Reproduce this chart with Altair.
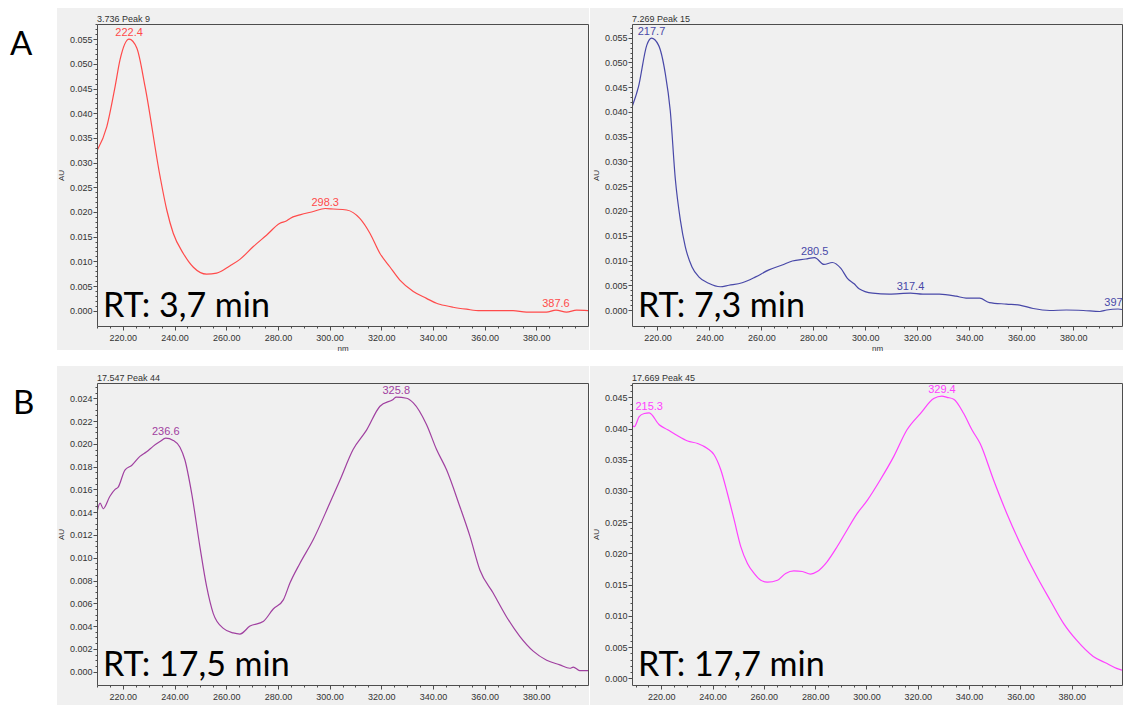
import altair as alt
import pandas as pd

# ---------------- spectra (wavelength in nm, absorbance in AU) ----------------
# Peak 9, RT 3.736 min
a1_nm = [210, 213.8, 217, 218.9, 222.4, 225.4, 228.6, 234.4, 237, 239.5,
         243.4, 247.3, 252.4, 256.3, 261.5, 265.3, 270.5, 275.6, 280.8, 283.4,
         284.7, 288.5, 293.7, 298.3, 301.4, 306.6, 311.7, 315.6, 319.5, 323.3,
         327.2, 332.4, 337.5, 341.4, 342.6, 347.8, 353, 358.2, 364.6, 371,
         376.2, 383.9, 387.6, 391.7, 395.6, 400]
a1_au = [0.0324, 0.0373, 0.0454, 0.0508, 0.0550, 0.0532, 0.0454, 0.0272, 0.0204, 0.0157,
         0.0116, 0.0088, 0.0074, 0.0076, 0.0091, 0.0104, 0.0130, 0.0153, 0.0177, 0.0182,
         0.0187, 0.0194, 0.0201, 0.0207, 0.0206, 0.0204, 0.0187, 0.0157, 0.0116, 0.0089,
         0.0062, 0.0039, 0.0025, 0.0015, 0.0013, 0.0007, 0.0003, 0.0000, 0.0000, 0.0000,
         -0.0003, -0.0003, 0.0001, -0.0003, 0.0001, 0.0000]
a1_peaks = [222.4, 298.3, 387.6]

# Peak 15, RT 7.269 min
a2_nm = [210, 212.7, 215.9, 217.7, 220.4, 223, 224.9, 226.9, 228.8, 230.7,
         233.3, 235.9, 239.7, 244.2, 247.5, 252.6, 257.8, 262.9, 268, 271.9,
         277.1, 280.5, 284.1, 287.3, 290.6, 293.1, 295.7, 297.6, 302.8, 309.2,
         317.4, 322.1, 328.5, 334.9, 338.8, 344, 347.8, 354.3, 359.4, 364.6,
         371, 377.4, 383.9, 390.3, 392.9, 397.3, 398.8]
a2_au = [0.0407, 0.0451, 0.0535, 0.0549, 0.0535, 0.0478, 0.0404, 0.0263, 0.0182, 0.0128,
         0.0087, 0.0067, 0.0054, 0.0047, 0.0050, 0.0055, 0.0067, 0.0081, 0.0091, 0.0099,
         0.0103, 0.0106, 0.0092, 0.0096, 0.0084, 0.0064, 0.0053, 0.0043, 0.0034, 0.0032,
         0.0034, 0.0032, 0.0032, 0.0028, 0.0024, 0.0024, 0.0015, 0.0012, 0.0010, 0.0003,
         -0.0001, 0.0000, -0.0001, -0.0003, 0.0000, 0.0002, 0.0001]
a2_peaks = [217.7, 280.5, 317.4, 397.3]

# Peak 44, RT 17.547 min
b1_nm = [210, 211.2, 212.4, 215, 217, 218.2, 220.8, 223.4, 226.6, 229.2,
         231.8, 234.4, 236.6, 239.5, 242.1, 244, 246.6, 249.8, 252.4, 255,
         258.9, 262.7, 265.3, 269.2, 274.3, 278.2, 282.1, 284.7, 288.5, 293.7,
         300.1, 304, 309.1, 314.3, 319.5, 324.6, 325.8, 329.8, 332.4, 337.5,
         341.4, 345.3, 350.4, 354.3, 358.2, 363.3, 368.5, 373.6, 378.8, 384,
         389.1, 393, 394.3, 396.8, 400]
b1_au = [0.0140, 0.0148, 0.0143, 0.0154, 0.0160, 0.0162, 0.0177, 0.0181, 0.0189, 0.0193,
         0.0198, 0.0202, 0.0205, 0.0203, 0.0197, 0.0186, 0.0157, 0.0110, 0.0075, 0.0051,
         0.0038, 0.0034, 0.0033, 0.0040, 0.0044, 0.0055, 0.0063, 0.0078, 0.0095, 0.0116,
         0.0148, 0.0168, 0.0195, 0.0212, 0.0233, 0.0239, 0.0241, 0.0240, 0.0236, 0.0217,
         0.0195, 0.0177, 0.0145, 0.0119, 0.0089, 0.0069, 0.0048, 0.0031, 0.0018, 0.0010,
         0.0006, 0.0003, 0.0004, 0.0001, 0.0001]
b1_peaks = [236.6, 325.8]

# Peak 45, RT 17.669 min
b2_nm = [208.6, 209.5, 211.4, 213.4, 215.3, 219.2, 222.5, 225.7, 230.3, 234.2,
         238, 240.6, 243.2, 245.8, 248.4, 251, 253.6, 256.2, 258.8, 261.4,
         265.3, 268.5, 271.7, 275, 278.2, 280.8, 284.7, 288.6, 292.5, 296.4,
         300.3, 305.4, 310.6, 315.8, 321, 326.2, 329.4, 331.4, 334, 337.9,
         341.1, 344.3, 349.5, 354.7, 359.9, 366.4, 371.6, 376.8, 381.9, 388.4,
         393.6, 397.5, 399.6]
b2_au = [0.0406, 0.0403, 0.0419, 0.0424, 0.0425, 0.0406, 0.0398, 0.0390, 0.0380, 0.0376,
         0.0368, 0.0358, 0.0334, 0.0296, 0.0254, 0.0211, 0.0184, 0.0168, 0.0157, 0.0154,
         0.0157, 0.0168, 0.0172, 0.0171, 0.0167, 0.0171, 0.0187, 0.0211, 0.0238, 0.0264,
         0.0285, 0.0318, 0.0355, 0.0398, 0.0424, 0.0448, 0.0452, 0.0450, 0.0447, 0.0424,
         0.0398, 0.0376, 0.0318, 0.0264, 0.0216, 0.0163, 0.0125, 0.0088, 0.0061, 0.0035,
         0.0024, 0.0016, 0.0013]
b2_peaks = [215.3, 329.4]

x_major = 20          # labelled wavelength ticks
x_minor = 5

FONT = "Liberation Sans"
BIG = "Lato"
PANEL = "#f0f0f0"
INK = "#4d4d4d"
LABEL = "#333333"


def one_row():
    return pd.DataFrame({"k": [0]})


def x_axis(dom, show_title, width):
    # ticks stop short of the right edge of the frame
    vals = [v for v in range(200, 405, x_minor) if dom[0] <= v < dom[1] - 1]
    test = f"datum.value % {x_major} === 0"
    kw = dict(
        values=vals, orient="bottom",
        labelExpr=f"{test} ? format(datum.value, '.2f') : ''",
        tickSize={"condition": {"test": test, "value": 4}, "value": 2},
        labelOverlap=False, labelFlush=False, labelBound=False,
        labelFont=FONT, labelFontSize=9, labelColor=LABEL, labelPadding=3,
        domainColor=INK, tickColor=INK, grid=False, zindex=1,
    )
    if show_title:
        kw.update(title="nm", titleFont=FONT, titleFontSize=8, titleFontWeight="normal",
                  titleColor=LABEL, titleX=width / 2, titleY=24, titleBaseline="alphabetic")
    else:
        kw.update(title=None)
    return alt.Axis(**kw)


def y_axis(dom, major, minor, height):
    n = int(dom[1] / minor + 1e-9)
    vals = [round(i * minor, 6) for i in range(n + 1)]
    test = f"abs(datum.value / {major} - round(datum.value / {major})) < 0.01"
    return alt.Axis(
        values=vals, orient="left",
        labelExpr=f"{test} ? format(datum.value, '.3f') : ''",
        tickSize={"condition": {"test": test, "value": 4}, "value": 2},
        labelOverlap=False, labelFlush=False, labelBound=False,
        labelFont=FONT, labelFontSize=9, labelColor=LABEL, labelPadding=1,
        domainColor=INK, tickColor=INK, grid=False, zindex=1,
        title="AU", titleFont=FONT, titleFontSize=8, titleFontWeight="normal",
        titleColor=LABEL, titleX=-34, titleY=height / 2, titleAngle=-90,
        titleAlign="center", titleBaseline="alphabetic",
    )


def panel(nm, au, peaks, color, xdom, ydom, ymajor, yminor, head, rt,
          width, height, bg_left, bg_top, bg_bottom, letter=None, letter_x=-87,
          show_nm=True):
    df = pd.DataFrame({"nm": nm, "au": au})
    pk = pd.DataFrame({"nm": peaks,
                       "au": [au[nm.index(p)] for p in peaks],
                       "label": [f"{p:.1f}" for p in peaks]})
    xs = alt.Scale(domain=xdom, nice=False, zero=False)
    ys = alt.Scale(domain=ydom, nice=False, zero=False)

    # grey panel behind plot and axes
    bg = alt.Chart(one_row()).mark_rect(color=PANEL).encode(
        x=alt.value(bg_left), x2=alt.value(width + 1),
        y=alt.value(bg_top), y2=alt.value(height + bg_bottom))

    line = alt.Chart(df).mark_line(color=color, strokeWidth=1.2, clip=True,
                                   interpolate="monotone").encode(
        x=alt.X("nm:Q", scale=xs, axis=x_axis(xdom, show_nm, width)),
        y=alt.Y("au:Q", scale=ys, axis=y_axis(ydom, ymajor, yminor, height)))

    # top and right edges of the plot frame
    frame_axis = dict(ticks=False, labels=False, title=None, domainColor=INK,
                      grid=False, zindex=1)
    frame = alt.Chart(df).mark_line(opacity=0).encode(
        x=alt.X("nm:Q", scale=xs, axis=alt.Axis(orient="top", **frame_axis)),
        y=alt.Y("au:Q", scale=ys, axis=alt.Axis(orient="right", **frame_axis)))

    labels = alt.Chart(pk).mark_text(color=color, font=FONT, fontSize=11,
                                     baseline="alphabetic", dy=-3, clip=True).encode(
        x=alt.X("nm:Q", scale=xs, axis=None),
        y=alt.Y("au:Q", scale=ys, axis=None),
        text="label:N")

    head_txt = alt.Chart(one_row()).mark_text(
        font=FONT, fontSize=9, color=LABEL, align="left", baseline="alphabetic").encode(
        x=alt.value(0), y=alt.value(-2), text=alt.value(head))

    rt_txt = alt.Chart(one_row()).mark_text(
        font=BIG, fontSize=34, color="#000000", align="left", baseline="alphabetic").encode(
        x=alt.value(6), y=alt.value(293), text=alt.value(rt))

    layers = [bg, line, frame, labels, head_txt, rt_txt]
    if letter is not None:
        layers.append(alt.Chart(one_row()).mark_text(
            font=BIG, fontSize=33, color="#000000", align="left",
            baseline="alphabetic").encode(
            x=alt.value(letter_x), y=alt.value(31), text=alt.value(letter)))

    return alt.layer(*layers).resolve_axis(x="independent", y="independent").properties(
        width=width, height=height)


W_LEFT, W_RIGHT, H = 491, 490, 302

pA1 = panel(a1_nm, a1_au, a1_peaks, "#ff4a4a", [210, 400], [-0.0031, 0.05808],
            0.005, 0.001, "3.736 Peak 9", "RT: 3,7 min",
            W_LEFT, H, -40, -16, 24, letter="A", letter_x=-87)
pA2 = panel(a2_nm, a2_au, a2_peaks, "#4848a8", [210.2, 398.8], [-0.00323, 0.05777],
            0.005, 0.001, "7.269 Peak 15", "RT: 7,3 min",
            W_RIGHT, H, -42, -16, 24)
pB1 = panel(b1_nm, b1_au, b1_peaks, "#a040a0", [210, 400], [-0.00117, 0.02534],
            0.002, 0.0005, "17.547 Peak 44", "RT: 17,5 min",
            W_LEFT, H, -40, -17, 20, letter="B", letter_x=-84, show_nm=False)
pB2 = panel(b2_nm, b2_au, b2_peaks, "#ff40ff", [208.6, 399.6], [-0.00107, 0.04729],
            0.005, 0.001, "17.669 Peak 45", "RT: 17,7 min",
            W_RIGHT, H, -42, -17, 20, show_nm=False)

chart = alt.concat(pA1, pA2, pB1, pB2, columns=2, bounds="flush",
                   spacing={"row": 57, "column": 44}).properties(
    padding={"left": 10, "top": 8, "right": 0, "bottom": 0},
    background="#ffffff",
).configure_view(strokeWidth=0)

chart.save("out.html", embed_options={"renderer": "svg", "actions": False})
